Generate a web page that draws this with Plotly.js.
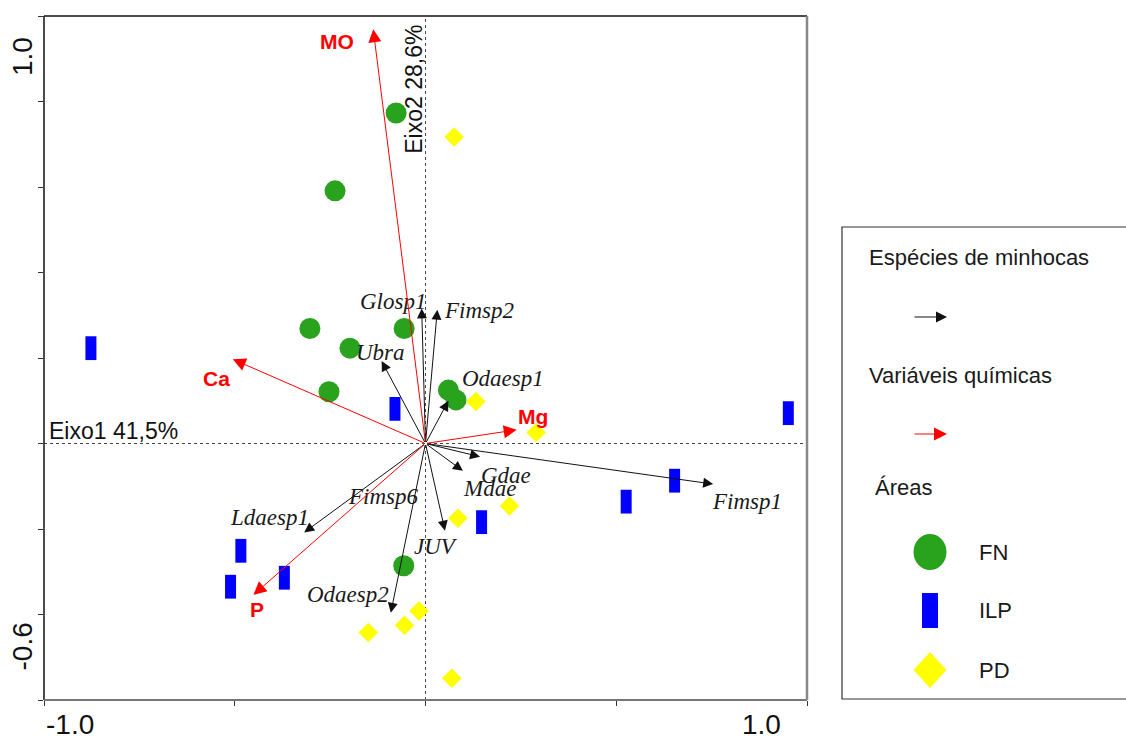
<!DOCTYPE html>
<html>
<head>
<meta charset="utf-8">
<script src="https://cdn.plot.ly/plotly-3.0.1.min.js"></script>
<style>html,body{margin:0;padding:0;background:#fff;}#chart{width:1126px;height:740px;}</style>
</head>
<body>
<div id="chart"></div>
<script>
// ---- Data ----
// Areas (site scores)
const fnX  = [-0.077, -0.237, -0.303, -0.056, -0.198, -0.253, 0.060, 0.080, -0.057];
const fnY  = [ 0.773,  0.591,  0.269,  0.269,  0.223,  0.121, 0.125, 0.102, -0.286];
const ilpX = [-0.877, -0.080, -0.484, -0.511, -0.370, 0.147, 0.526, 0.653, 0.951];
const ilpY = [ 0.223,  0.081, -0.251, -0.335, -0.314, -0.184, -0.136, -0.087, 0.071];
const pdX  = [ 0.075, 0.132, 0.290, 0.085, 0.220, -0.150, -0.055, -0.017, 0.069];
const pdY  = [ 0.717, 0.098, 0.026, -0.175, -0.146, -0.442, -0.425, -0.392, -0.549];

// Earthworm species vectors
const speciesNames  = ["Glosp1","Fimsp2","Ubra","Odaesp1","Fimsp1","Gdae","Mdae","JUV","Odaesp2","Ldaesp1","Fimsp6"];
const speciesX      = [-0.010, 0.031, -0.115, 0.060, 0.754, 0.143, 0.098, 0.051, -0.091, -0.318, 0.000];
const speciesY      = [ 0.316, 0.313,  0.193, 0.100, -0.095, -0.031, -0.064, -0.204, -0.396, -0.208, 0.001];
const speciesLabelX = [-0.085, 0.140, -0.117, 0.203, 0.842, 0.211, 0.169, 0.028, -0.203, -0.408, -0.109];
const speciesLabelY = [ 0.332, 0.312,  0.214, 0.153, -0.136, -0.074, -0.105, -0.241, -0.354, -0.173, -0.125];

// Chemical variable vectors
const chemNames  = ["MO","Ca","Mg","P"];
const chemX      = [-0.137, -0.505, 0.239, -0.451];
const chemY      = [ 0.969,  0.197, 0.032, -0.354];
const chemLabelX = [-0.231, -0.549, 0.283, -0.442];
const chemLabelY = [ 0.940,  0.153, 0.063, -0.389];

// Axes
const xTickVals = [-1, -0.5, 0, 0.5, 1];
const yTickVals = [-0.6, -0.4, -0.2, 0, 0.2, 0.4, 0.6, 0.8, 1.0];
const xTickText = ["-1.0", "1.0"];
const yTickText = ["1.0", "-0.6"];
const axis1Title = "Eixo1 41,5%";
const axis2Title = "Eixo2 28,6%";

// Legend texts
const legendHeads = ["Espécies de minhocas", "Variáveis químicas", "Áreas"];
const areaNames = ["FN", "ILP", "PD"];

// ---- Styles ----
const GREEN = "#29A21D", BLUE = "#0000FF", YELLOW = "#FFFF00", RED = "#FF0000";
const SANS = "Liberation Sans, Arial, sans-serif";
const SERIF = "Liberation Serif, Times New Roman, serif";

// pixel -> paper helpers (plot area: x 44..807, y 16..700)
const PL = 44, PR = 807, PT = 16, PB = 700;
const PX = p => (p - PL) / (PR - PL);
const PY = p => (PB - p) / (PB - PT);

const traces = [
  {x: fnX, y: fnY, mode: "markers", type: "scatter", name: areaNames[0],
   marker: {symbol: "circle", size: 21, color: GREEN, line: {width: 0}}},
  {x: ilpX, y: ilpY, mode: "markers", type: "scatter", name: areaNames[1],
   marker: {symbol: "line-ns", size: 17, color: BLUE, line: {width: 11, color: BLUE}}},
  {x: pdX, y: pdY, mode: "markers", type: "scatter", name: areaNames[2],
   marker: {symbol: "diamond", size: 15, color: YELLOW, line: {width: 0}}}
];

const ann = [];
// species arrows + labels
speciesNames.forEach((n, i) => {
  ann.push({xref: "x", yref: "y", axref: "x", ayref: "y", x: speciesX[i], y: speciesY[i], ax: 0, ay: 0,
    text: "", showarrow: true, arrowhead: 2, arrowsize: 2, arrowwidth: 1, arrowcolor: "#111", standoff: 0});
  ann.push({xref: "x", yref: "y", x: speciesLabelX[i], y: speciesLabelY[i], text: "<i>" + n + "</i>",
    showarrow: false, font: {family: SERIF, size: 23, color: "#1a1a1a"}, xanchor: "center", yanchor: "middle"});
});
// chemical arrows + labels
chemNames.forEach((n, i) => {
  ann.push({xref: "x", yref: "y", axref: "x", ayref: "y", x: chemX[i], y: chemY[i], ax: 0, ay: 0,
    text: "", showarrow: true, arrowhead: 2, arrowsize: 2.6, arrowwidth: 1, arrowcolor: RED, standoff: 0});
  ann.push({xref: "x", yref: "y", x: chemLabelX[i], y: chemLabelY[i], text: "<b>" + n + "</b>",
    showarrow: false, font: {family: SANS, size: 21, color: RED}, xanchor: "center", yanchor: "middle"});
});
// axis titles
ann.push({xref: "x", yref: "y", x: -0.992, y: 0.029, text: axis1Title, showarrow: false,
  xanchor: "left", yanchor: "middle", font: {family: SANS, size: 23, color: "#111"}});
ann.push({xref: "x", yref: "y", x: -0.031, y: 0.829, text: axis2Title, showarrow: false, textangle: -90,
  xanchor: "center", yanchor: "middle", font: {family: SANS, size: 23, color: "#111"}});
// tick labels
const TF = {family: SANS, size: 28, color: "#111"};
ann.push({xref: "x", yref: "paper", x: xTickVals[0], y: PY(724), text: xTickText[0], showarrow: false,
  xanchor: "left", yanchor: "middle", font: TF});
ann.push({xref: "paper", yref: "paper", x: PX(761), y: PY(724), text: xTickText[1], showarrow: false,
  xanchor: "center", yanchor: "middle", font: TF});
ann.push({xref: "paper", yref: "paper", x: PX(22.5), y: PY(56.5), text: yTickText[0], showarrow: false, textangle: -90,
  xanchor: "center", yanchor: "middle", font: TF});
ann.push({xref: "paper", yref: "paper", x: PX(21.5), y: PY(647), text: yTickText[1], showarrow: false, textangle: -90,
  xanchor: "center", yanchor: "middle", font: TF});

// legend texts & arrows
const LF = {family: SANS, size: 22, color: "#1a1a1a"};
ann.push({xref: "paper", yref: "paper", x: PX(867), y: PY(257), text: legendHeads[0], showarrow: false, xanchor: "left", yanchor: "middle", font: LF});
ann.push({xref: "paper", yref: "paper", x: PX(867), y: PY(375), text: legendHeads[1], showarrow: false, xanchor: "left", yanchor: "middle", font: LF});
ann.push({xref: "paper", yref: "paper", x: PX(873), y: PY(487), text: legendHeads[2], showarrow: false, xanchor: "left", yanchor: "middle", font: LF});
ann.push({xref: "paper", yref: "paper", x: PX(977), y: PY(552), text: areaNames[0], showarrow: false, xanchor: "left", yanchor: "middle", font: LF});
ann.push({xref: "paper", yref: "paper", x: PX(977), y: PY(610), text: areaNames[1], showarrow: false, xanchor: "left", yanchor: "middle", font: LF});
ann.push({xref: "paper", yref: "paper", x: PX(977), y: PY(670), text: areaNames[2], showarrow: false, xanchor: "left", yanchor: "middle", font: LF});
ann.push({xref: "paper", yref: "paper", x: PX(947), y: PY(317), ax: -34, ay: 0, text: "", showarrow: true,
  arrowhead: 2, arrowsize: 2.2, arrowwidth: 1, arrowcolor: "#111", standoff: 0});
ann.push({xref: "paper", yref: "paper", x: PX(947), y: PY(434), ax: -34, ay: 0, text: "", showarrow: true,
  arrowhead: 2, arrowsize: 2.6, arrowwidth: 1, arrowcolor: RED, standoff: 0});

const shapes = [
  // dotted zero lines
  {type: "line", xref: "x", yref: "y", x0: 0, x1: 0, y0: -0.6, y1: 1.0, line: {color: "#444", width: 1, dash: "dot"}, layer: "below"},
  {type: "line", xref: "x", yref: "y", x0: -1, x1: 1, y0: 0, y1: 0, line: {color: "#444", width: 1, dash: "dot"}, layer: "below"},
  // frame
  {type: "line", xref: "paper", yref: "paper", x0: 0, x1: 1, y0: 1, y1: 1, line: {color: "#111", width: 1.5}},
  {type: "line", xref: "paper", yref: "paper", x0: 0, x1: 0, y0: 0, y1: 1, line: {color: "#111", width: 1.5}},
  {type: "line", xref: "paper", yref: "paper", x0: 0, x1: 1, y0: 0, y1: 0, line: {color: "#777", width: 2}},
  {type: "line", xref: "paper", yref: "paper", x0: 1, x1: 1, y0: 0, y1: 1, line: {color: "#888", width: 2.5}},
  // legend box
  {type: "rect", xref: "paper", yref: "paper", x0: PX(842), x1: PX(1140), y0: PY(699), y1: PY(227), line: {color: "#333", width: 1.2}, fillcolor: "rgba(0,0,0,0)"},
  // legend symbols
  {type: "circle", xref: "paper", yref: "paper", x0: PX(913.5), x1: PX(946.5), y0: PY(570), y1: PY(534), fillcolor: GREEN, line: {width: 0}},
  {type: "rect", xref: "paper", yref: "paper", x0: PX(922), x1: PX(938), y0: PY(628), y1: PY(593), fillcolor: BLUE, line: {width: 0}},
  {type: "path", xref: "paper", yref: "paper",
   path: "M" + PX(913.5) + "," + PY(670) + " L" + PX(930) + "," + PY(652) + " L" + PX(946.5) + "," + PY(670) + " L" + PX(930) + "," + PY(688) + " Z",
   fillcolor: YELLOW, line: {width: 0}}
];

const layout = {
  width: 1126, height: 740,
  margin: {l: PL, r: 1126 - PR, t: PT, b: 740 - PB, pad: 0},
  paper_bgcolor: "#fff", plot_bgcolor: "#fff",
  showlegend: false,
  xaxis: {range: [-1, 1], tickvals: xTickVals, showticklabels: false, ticks: "outside", ticklen: 5,
          tickcolor: "#333", tickwidth: 1, showgrid: false, zeroline: false, showline: false, fixedrange: true},
  yaxis: {range: [-0.6, 1.0], tickvals: yTickVals, showticklabels: false, ticks: "outside", ticklen: 5,
          tickcolor: "#333", tickwidth: 1, showgrid: false, zeroline: false, showline: false, fixedrange: true},
  annotations: ann,
  shapes: shapes
};

Plotly.newPlot("chart", traces, layout, {displayModeBar: false, staticPlot: true});
</script>
</body>
</html>
